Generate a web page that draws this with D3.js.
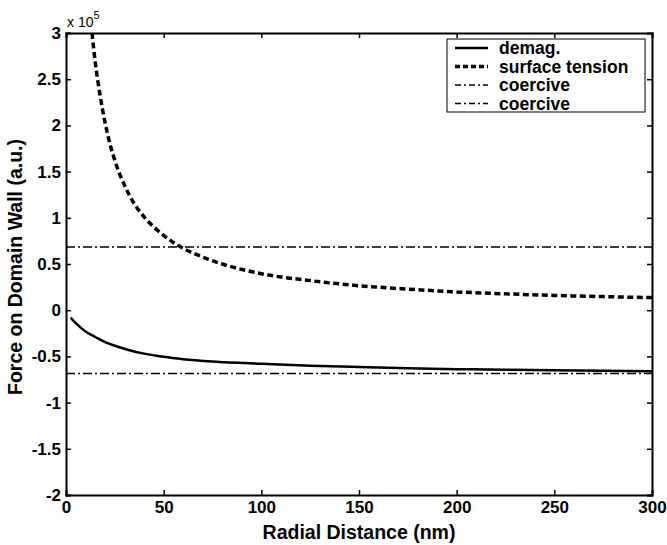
<!DOCTYPE html>
<html>
<head>
<meta charset="utf-8">
<script src="https://cdn.jsdelivr.net/npm/d3@7"></script>
<style>
  body { margin: 0; background: #fff; }
  text { font-family: "Liberation Sans", Arial, sans-serif; font-weight: bold; fill: #000; }
</style>
</head>
<body>
<div id="chart"></div>
<script>
// values, force in units of 1e5
const demagR = [2.4, 5, 10, 15, 20, 25, 32, 40, 50, 60, 75, 100, 125, 150, 175, 200, 225, 250, 275, 300];
const demagF = [-0.08, -0.14, -0.23, -0.29, -0.345, -0.385, -0.43, -0.47, -0.505, -0.53, -0.555, -0.58, -0.60, -0.615, -0.628, -0.638, -0.645, -0.651, -0.656, -0.66];

const tensionR = [13.3, 15, 17.5, 20, 22.5, 25, 30, 35, 40, 50, 60, 70, 80, 100, 125, 150, 175, 200, 225, 250, 275, 300];
const tensionF = [3.0, 2.68, 2.32, 2.03, 1.8, 1.62, 1.35, 1.15, 1.01, 0.81, 0.67, 0.575, 0.5, 0.395, 0.32, 0.265, 0.228, 0.198, 0.177, 0.16, 0.147, 0.136];

const coerciveR = [0, 300];
const coerciveUp = [0.685, 0.685];
const coerciveDown = [-0.685, -0.685];

const legendNames = ["demag.", "surface tension", "coercive", "coercive"];
const xTicks = [0, 50, 100, 150, 200, 250, 300];
const yTicks = [-2, -1.5, -1, -0.5, 0, 0.5, 1, 1.5, 2, 2.5, 3];

const margin = { top: 33, right: 15, bottom: 50, left: 66 },
      width = 667 - margin.left - margin.right,
      height = 545 - margin.top - margin.bottom;

const svg = d3.select("#chart")
  .append("svg")
  .attr("width", 667)
  .attr("height", 545);

const g = svg.append("g")
  .attr("transform", `translate(${margin.left},${margin.top})`);

const x = d3.scaleLinear().domain([0, 300]).range([0, width]);
const y = d3.scaleLinear().domain([-2, 3]).range([height, 0]);

const tickFmt = d => String(d);

// axes, ticks pointing inward
const xAxis = g.append("g")
  .attr("transform", `translate(0,${height})`)
  .call(d3.axisBottom(x).tickValues(xTicks).tickSize(-5).tickPadding(6).tickFormat(tickFmt));
const yAxis = g.append("g")
  .call(d3.axisLeft(y).tickValues(yTicks).tickSize(-5).tickPadding(5).tickFormat(tickFmt));
const xTop = g.append("g")
  .call(d3.axisTop(x).tickValues(xTicks).tickSize(-5).tickFormat(""));
const yRight = g.append("g")
  .attr("transform", `translate(${width},0)`)
  .call(d3.axisRight(y).tickValues(yTicks).tickSize(-5).tickFormat(""));

[xAxis, yAxis, xTop, yRight].forEach(a => {
  a.select(".domain").attr("stroke", "#000").attr("stroke-width", 2);
  a.selectAll(".tick line").attr("stroke", "#000").attr("stroke-width", 1.5);
  a.selectAll("text").style("font-size", "17px").attr("fill", "#000");
});

// scale factor label
const expo = svg.append("text")
  .attr("x", margin.left + 1)
  .attr("y", 27)
  .style("font-size", "14px")
  .style("font-weight", "normal");
expo.append("tspan").text("x 10");
expo.append("tspan").attr("dy", -8).style("font-size", "11px").text("5");

// axis titles
svg.append("text")
  .attr("x", margin.left + width / 2)
  .attr("y", 539)
  .attr("text-anchor", "middle")
  .style("font-size", "19.5px")
  .text("Radial Distance (nm)");

svg.append("text")
  .attr("transform", `translate(22,${margin.top + height / 2 + 3}) rotate(-90)`)
  .attr("text-anchor", "middle")
  .style("font-size", "19.5px")
  .text("Force on Domain Wall (a.u.)");

g.append("clipPath").attr("id", "clip")
  .append("rect").attr("width", width).attr("height", height);

const line = d3.line()
  .x(d => x(d[0]))
  .y(d => y(d[1]))
  .curve(d3.curveMonotoneX);

const styles = [
  { w: 2.5, dash: null, leg: null },
  { w: 3.5, dash: "6,3.5", leg: "5,3" },
  { w: 1.5, dash: "9,3,2,3", leg: "6,3,2,3" },
  { w: 1.5, dash: "9,3,2,3", leg: "6,3,2,3" }
];

const series = [
  d3.zip(demagR, demagF),
  d3.zip(tensionR, tensionF),
  d3.zip(coerciveR, coerciveUp),
  d3.zip(coerciveR, coerciveDown)
];

const plot = g.append("g").attr("clip-path", "url(#clip)");
plot.selectAll("path")
  .data(series)
  .enter()
  .append("path")
  .attr("d", line)
  .attr("fill", "none")
  .attr("stroke", "#000")
  .attr("stroke-width", (d, i) => styles[i].w)
  .attr("stroke-dasharray", (d, i) => styles[i].dash);

// legend
const legend = svg.append("g").attr("transform", "translate(447,39)");
legend.append("rect")
  .attr("width", 198)
  .attr("height", 73)
  .attr("fill", "#fff")
  .attr("stroke", "#000")
  .attr("stroke-width", 1);

const rows = legend.selectAll(".row")
  .data(legendNames)
  .enter()
  .append("g")
  .attr("transform", (d, i) => `translate(0,${9 + i * 18.5})`);

rows.append("line")
  .attr("x1", 8).attr("x2", 41)
  .attr("stroke", "#000")
  .attr("stroke-width", (d, i) => styles[i].w)
  .attr("stroke-dasharray", (d, i) => styles[i].leg);

rows.append("text")
  .attr("x", 52)
  .attr("dy", "0.36em")
  .style("font-size", "17.5px")
  .text(d => d);
</script>
</body>
</html>
